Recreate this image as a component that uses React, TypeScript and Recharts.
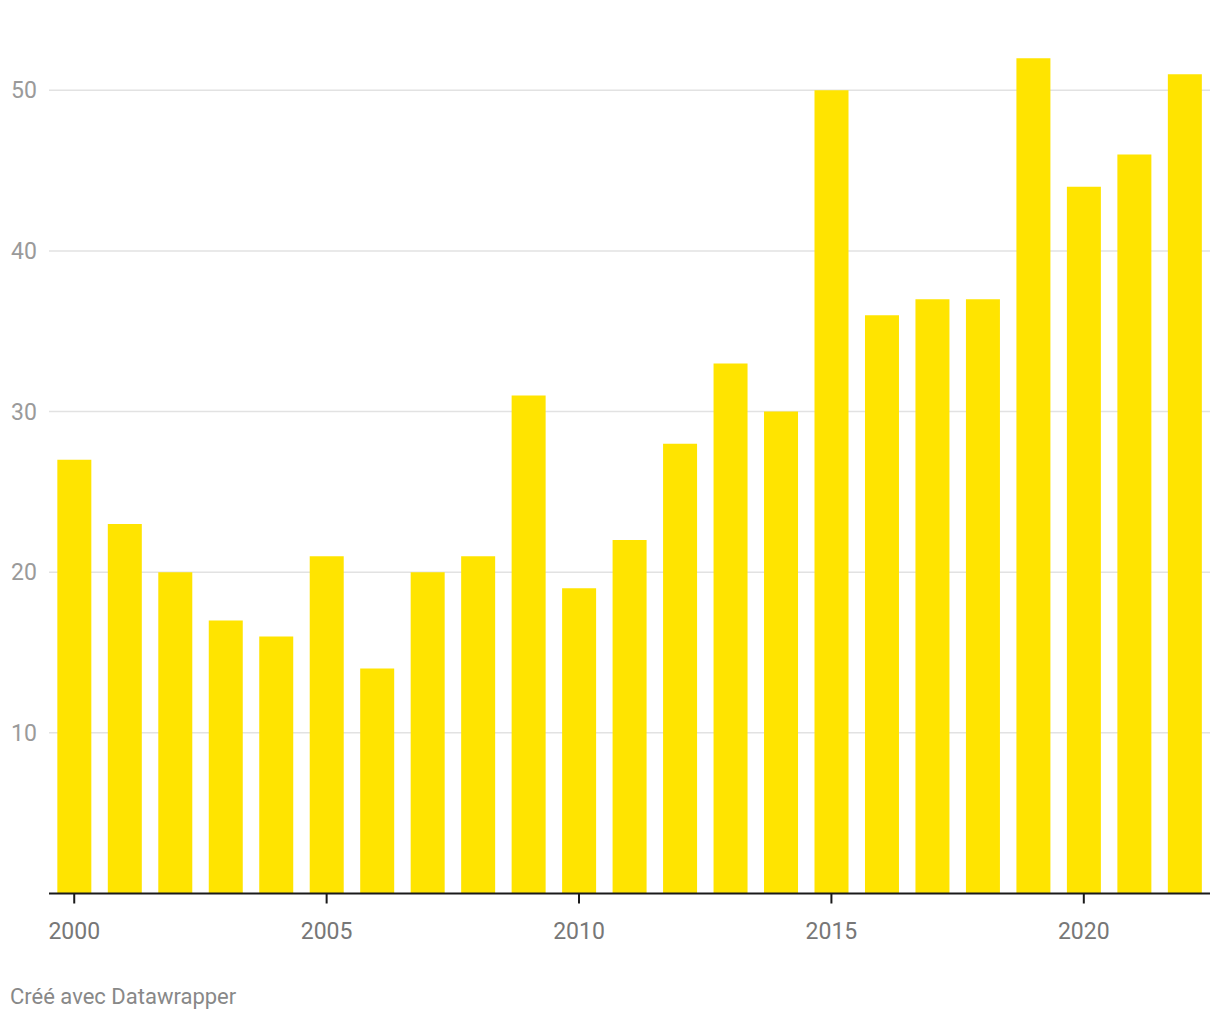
import React from "react";
import { BarChart, Bar, XAxis, YAxis, CartesianGrid } from "recharts";

const years = [2000, 2001, 2002, 2003, 2004, 2005, 2006, 2007, 2008, 2009, 2010, 2011, 2012, 2013, 2014, 2015, 2016, 2017, 2018, 2019, 2020, 2021, 2022];
const values = [27, 23, 20, 17, 16, 21, 14, 20, 21, 31, 19, 22, 28, 33, 30, 50, 36, 37, 37, 52, 44, 46, 51];
const yTicks = [0, 10, 20, 30, 40, 50];
const yDomain: [number, number] = [0, 55];
const xLabelYears = [2000, 2005, 2010, 2015, 2020];

const data = years.map((y, i) => ({ year: y, value: values[i] }));

const FONT = "Roboto, 'Noto Sans', sans-serif";

const XTick = (props: any) => {
  const { x, y, payload } = props;
  if (!xLabelYears.includes(Number(payload.value))) return null;
  return (
    <g>
      <line x1={x} x2={x} y1={y} y2={y + 10} stroke="#1a1a1a" strokeWidth={2} />
      <text x={x} y={y + 45} textAnchor="middle" fill="#777" fontSize={23} fontFamily={FONT}>
        {payload.value}
      </text>
    </g>
  );
};

const YTick = (props: any) => {
  const { y, payload } = props;
  if (payload.value === 0) return null;
  return (
    <text x={11} y={y + 8} textAnchor="start" fill="#9a9a9a" fontSize={23} fontFamily={FONT}>
      {payload.value}
    </text>
  );
};

const gridGen = (args: any) => {
  const off = args?.offset;
  const s = args?.yAxis?.scale;
  const vals = yTicks.filter((t) => t > 0);
  if (typeof s === "function") return vals.map((t) => s(t));
  if (s && typeof s.map === "function") return vals.map((t) => s.map(t));
  if (!off) return [];
  const [d0, d1] = yDomain;
  return vals.map((t) => off.top + off.height * (1 - (t - d0) / (d1 - d0)));
};

export default function App() {
  return (
    <div style={{ position: "absolute", left: 0, top: 0, width: 1220, height: 1020, background: "#fff" }}>
      <BarChart
        width={1220}
        height={1020}
        data={data}
        margin={{ top: 10, right: 10, bottom: 0, left: 0 }}
        barCategoryGap="16.5%"
      >
        <CartesianGrid
          vertical={false}
          stroke="#e2e2e2"
          strokeWidth={1.5}
          horizontalCoordinatesGenerator={gridGen}
        />
        <YAxis
          type="number"
          domain={yDomain}
          ticks={yTicks}
          width={49}
          axisLine={false}
          tickLine={false}
          tick={<YTick />}
        />
        <XAxis
          dataKey="year"
          height={126.5}
          interval={0}
          tickLine={false}
          tickSize={0}
          tickMargin={0}
          axisLine={{ stroke: "#1a1a1a", strokeWidth: 2 }}
          tick={<XTick />}
        />
        <Bar dataKey="value" fill="#FFE400" isAnimationActive={false} />
      </BarChart>
      <div
        style={{
          position: "absolute",
          left: 10,
          top: 984,
          fontFamily: FONT,
          fontSize: 22,
          color: "#888",
          whiteSpace: "nowrap",
        }}
      >
        Créé avec Datawrapper
      </div>
    </div>
  );
}
